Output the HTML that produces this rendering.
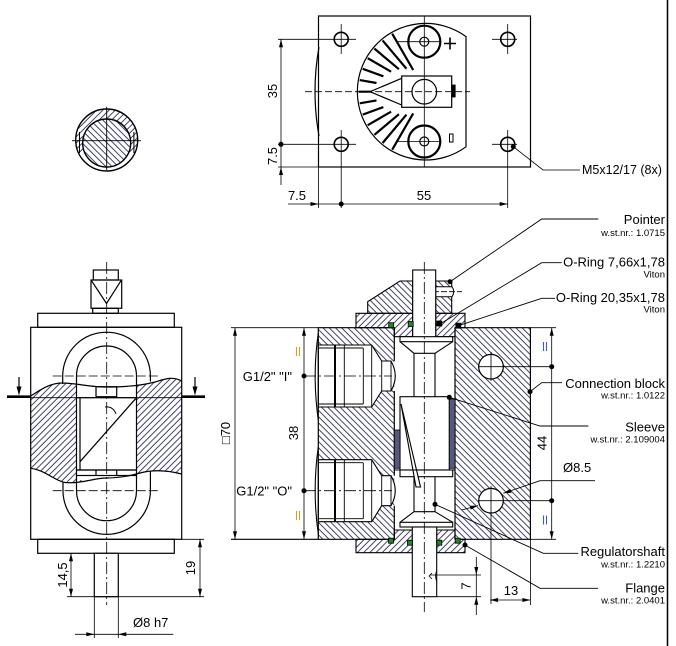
<!DOCTYPE html>
<html><head><meta charset="utf-8"><style>
html,body{margin:0;padding:0;background:#fff;}
svg{display:block;}
text{font-family:"Liberation Sans",Arial,"DejaVu Sans",sans-serif;fill:#000;}
</style></head><body>
<svg width="676" height="646" viewBox="0 0 676 646" xmlns="http://www.w3.org/2000/svg">
<defs>
<pattern id="hf" patternUnits="userSpaceOnUse" width="4.4" height="10" patternTransform="rotate(45)"><line x1="1" y1="-1" x2="1" y2="11" stroke="#2e2e5c" stroke-width="0.9"/></pattern>
<pattern id="hb" patternUnits="userSpaceOnUse" width="4.4" height="10" patternTransform="rotate(-45)"><line x1="1" y1="-1" x2="1" y2="11" stroke="#2e2e5c" stroke-width="0.9"/></pattern>
<clipPath id="rc"><rect x="70" y="100" width="80" height="53"/></clipPath>
</defs>
<rect width="676" height="646" fill="#fff"/>

<!-- right border -->
<line x1="667.5" y1="0" x2="667.5" y2="646" stroke="#000" stroke-width="1.5"/>

<!-- ================= TOP VIEW ================= -->
<g fill="none" stroke="#000" stroke-width="1.2">
<rect x="318.5" y="16" width="212" height="151"/>
<path d="M319,47 Q311,91.7 319,136"/>
<path d="M466,36.6 A68.3,68.3 0 1 0 466,146.8 Z"/>
<circle cx="341.2" cy="39.3" r="7" stroke-width="1.6"/>
<circle cx="507.7" cy="39.3" r="7" stroke-width="1.6"/>
<circle cx="341.2" cy="144.3" r="7" stroke-width="1.6"/>
<circle cx="507.7" cy="144.3" r="7" stroke-width="1.6"/>
<path stroke-width="0.8" d="M278,39.3H356 M341.2,24V54 M492,39.3H517 M507.7,24V54 M278,144.3H356 M341.2,130V208 M492,144.3H517 M507.7,130V208 M278,167H318.5 M318.5,167V208"/>
<circle cx="424.3" cy="41.7" r="16" stroke-width="2.2"/>
<circle cx="424.3" cy="41.7" r="4.5"/>
<circle cx="424.3" cy="141.5" r="16" stroke-width="2.2"/>
<circle cx="424.3" cy="141.5" r="4.5"/>
<rect x="401.7" y="76" width="50" height="31.3" fill="#fff"/>
<rect x="451.7" y="85" width="3.5" height="12" fill="#000" stroke-width="0.8"/>
<circle cx="424.3" cy="91.7" r="12.3"/>
<path d="M370,91.7 L401.7,78.3 M370,91.7 L401.7,105"/>
<path stroke-width="2.2" d="M358.7,91.7L370.7,91.7 M359.7,80.1L376.5,83 M362.7,68.8L383.4,76.3 M367.7,58.2L391.1,71.7 M374.4,48.6L398.9,69.2 M382.6,40.4L406.4,68.7 M392.2,33.7L413.2,70 M359.7,103.3L376.5,100.4 M362.7,114.6L383.4,107.1 M367.7,125.2L391.1,111.7 M374.4,134.8L398.9,114.2 M382.6,143L406.4,114.7 M392.2,149.7L413.2,113.4"/>
<path stroke-width="0.8" d="M424.3,16V167"/>
<path stroke-width="0.8" stroke-dasharray="7,3" d="M305,91.7H470"/>
<path stroke-width="0.8" d="M398,41.7H440 M398,141.5H440"/>
<path stroke-width="1.6" d="M444,43.5H456 M450,37.5V49.5"/>
<rect x="449.5" y="134" width="3.5" height="8" stroke-width="1"/>
</g>
<!-- top view dims -->
<g stroke="#000" stroke-width="0.8" fill="none">
<path d="M281,39.3V185 M288,204H507.7"/>
<path d="M513.3,146.7 L543,170 H580"/>
</g>
<g fill="#000">
<polygon points="281,39.3 279,47.3 283,47.3"/>
<polygon points="281,167 279,175 283,175"/>
<polygon points="318.5,204 310.5,202 310.5,206"/>
<polygon points="507.7,204 499.7,202 499.7,206"/>
<circle cx="281" cy="144.3" r="2.5"/>
<circle cx="341.2" cy="204" r="2.5"/>
<circle cx="513.3" cy="146.7" r="2.5"/>
</g>
<text font-size="13" text-anchor="middle" transform="translate(277,91) rotate(-90)">35</text>
<text font-size="13" text-anchor="middle" transform="translate(277,156) rotate(-90)">7.5</text>
<text font-size="13" text-anchor="middle" x="297" y="200">7.5</text>
<text font-size="13" text-anchor="middle" x="424" y="200">55</text>
<text font-size="12.5" x="582" y="174">M5x12/17 (8x)</text>

<!-- ================= SMALL ROUND SECTION ================= -->
<path d="M75.7,140 a31,31 0 1,0 62,0 a31,31 0 1,0 -62,0 Z M82.7,143 a24,24 0 1,0 48,0 a24,24 0 1,0 -48,0 Z" fill-rule="evenodd" fill="url(#hf)" clip-path="url(#rc)"/>
<circle cx="106.7" cy="143" r="24" fill="url(#hb)"/>
<g fill="none" stroke="#000" stroke-width="1.4">
<circle cx="106.7" cy="140" r="31"/>
<circle cx="106.7" cy="143" r="24"/>
<path stroke-width="1" d="M79.5,132 V153 M133.9,132 V153"/>
<path stroke-width="0.9" d="M72,140.7 H141 M106.7,106.7 V170"/>
</g>

<!-- ================= LEFT (SIDE) VIEW ================= -->
<rect x="30.7" y="376" width="151" height="110" fill="url(#hf)"/>
<path fill="#fff" d="M29,370 L29,396 C40,390 50,383 62,383 C75,383 90,387 106,387 C122,387 140,386 155,382 C165,379 172,376 183,381 L183,370 Z"/>
<path fill="#fff" d="M29,468.3 C45,470 55,481 65,482.5 C80,484 95,478 106,478 C120,478 130,476 140,473 C155,469 170,471 183,474 L183,492 L29,492 Z"/>
<rect x="76.5" y="380" width="60" height="100" fill="#fff"/>
<g fill="none" stroke="#000" stroke-width="1.2">
<rect x="93.3" y="270" width="25" height="10"/>
<rect x="91" y="280" width="30.7" height="28.3"/>
<rect x="92.7" y="308.3" width="25.6" height="5"/>
<path d="M91.5,280.7 L106.5,303.5 L121,280.7"/>
<rect x="37.7" y="313.3" width="136.6" height="14"/>
<rect x="30.7" y="327.3" width="151" height="212"/>
<path d="M62.7,384 V376 A43.7,43.7 0 0 1 150.4,376 V381.5"/>
<path d="M76.5,397.7 V376 A30,30 0 0 1 136.5,376 V397.7"/>
<path d="M30.7,396 C40,390 50,383 62,383 C75,383 90,387 106,387 C122,387 140,386 155,382 C165,379 172,376 181.7,381"/>
<path d="M30.7,468.3 C45,470 55,481 65,482.5 C80,484 95,478 106,478 C120,478 130,476 140,473 C155,469 170,471 181.7,474"/>
<rect x="76.5" y="397.7" width="60" height="72.3" fill="#fff"/>
<path d="M80,397.7 V470 M80,461.7 L136.5,397.7"/>
<path d="M105,407 Q113,406 116,414" stroke-width="0.9"/>
<rect x="96" y="386.7" width="20.7" height="10"/>
<rect x="76.5" y="470" width="60" height="5.5"/>
<path d="M96,470 V475.5 M116.7,470 V475.5"/>
<path d="M63,482.5 V490.7 A43.7,43.7 0 0 0 150.4,490.7 V471"/>
<path d="M76.5,475.5 V490.7 A30,30 0 0 0 136.5,490.7 V475.5"/>
<rect x="37.7" y="539.3" width="136.6" height="14"/>
<rect x="94.3" y="553.3" width="24" height="43.4" fill="#fff"/>
<path stroke-width="0.8" stroke-dasharray="9,3" d="M52.7,376 H159.3 M52.7,490.7 H159.3"/>
<path stroke-width="0.8" stroke-dasharray="12,3,2,3" d="M106.7,262 V605"/>
<path stroke-width="0.9" d="M30.7,397.7 H181.7"/>
<path stroke-width="2.6" d="M7,396.7 H30.7 M182,396.7 H205"/>
<path stroke-width="1.2" d="M19,377 V388 M195,377 V388"/>
</g>
<g fill="#000">
<polygon points="19,395.5 16.5,386.5 21.5,386.5"/>
<polygon points="195,395.5 192.5,386.5 197.5,386.5"/>
</g>
<!-- left view dims -->
<g stroke="#000" stroke-width="0.8" fill="none">
<path d="M71,553.3 V596.7 M200,539.3 V596.7 M181.7,539.3 H204 M67,596.7 H204 M75,634.3 H173.3 M94.3,596.7 V638 M118.3,596.7 V638"/>
</g>
<g fill="#000">
<polygon points="71,553.3 69,561.3 73,561.3"/>
<polygon points="71,596.7 69,588.7 73,588.7"/>
<polygon points="200,539.3 198,547.3 202,547.3"/>
<polygon points="200,596.7 198,588.7 202,588.7"/>
<polygon points="94.3,634.3 86.3,632.3 86.3,636.3"/>
<polygon points="118.3,634.3 126.3,632.3 126.3,636.3"/>
</g>
<text font-size="13" text-anchor="middle" transform="translate(67,575) rotate(-90)">14,5</text>
<text font-size="13" text-anchor="middle" transform="translate(195,568) rotate(-90)">19</text>
<text font-size="13" x="133" y="627">Ø8 h7</text>

<!-- ================= SECTION VIEW ================= -->
<rect x="318.3" y="327.7" width="76" height="211.6" fill="url(#hb)"/>
<rect x="455" y="327.7" width="75.4" height="211.6" fill="url(#hb)"/>
<circle cx="491" cy="366.7" r="12.3" fill="#fff" stroke="#000" stroke-width="1.2"/>
<circle cx="491" cy="500.7" r="12.3" fill="#fff" stroke="#000" stroke-width="1.2"/>

<!-- ports -->
<g stroke="#000" stroke-width="1.1" fill="#fff">
<path d="M318.3,345 L371.7,345 L381.7,361 L391,361 Q399.5,376 391,391 L381.7,391 L371.7,407 L318.3,407 Z"/>
<path d="M318.3,459.7 L371.7,459.7 L381.7,475.7 L391,475.7 Q399.5,490.7 391,505.7 L381.7,505.7 L371.7,521.7 L318.3,521.7 Z"/>
</g>
<g stroke="#000" stroke-width="0.9" fill="none">
<path d="M371.7,345 V407 M381.7,361 V391 M391,361 V391 M344.3,345 V407 M363.3,348 V404 M318.3,348 H363.3 M318.3,404 H363.3"/>
<path d="M371.7,459.7 V521.7 M381.7,475.7 V505.7 M391,475.7 V505.7 M344.3,459.7 V521.7 M363.3,462.7 V518.7 M318.3,462.7 H363.3 M318.3,518.7 H363.3"/>
<path stroke-width="2" d="M335,345 V407 M335,459.7 V521.7"/>
<path stroke-width="1.1" d="M318.3,333 Q312,376 318.3,420 M318.3,447 Q312,490.7 318.3,534"/>
</g>

<!-- flanges & pointer -->
<g fill="url(#hf)" stroke="#000" stroke-width="1.1">
<path d="M356,313.3 H412.7 V336.7 H394.3 V327.7 H356 Z"/>
<path d="M435.7,313.3 H465 V327.7 H455 V336.7 H435.7 Z"/>
<path d="M356,552.7 H412.3 V530 H394.3 V539.3 H356 Z"/>
<path d="M436.7,552.7 H465 V539.3 H455 V530 H436.7 Z"/>
</g>
<path fill="url(#hb)" stroke="#000" stroke-width="1.1" d="M367.7,313.3 V301.7 L400,281 H412.7 V313.3 Z M435.7,281 H451.7 V313.3 H435.7 Z"/>
<path fill="#fff" stroke="#000" stroke-width="1" d="M435.7,286.7 H452 Q455.5,291.7 452,296.7 H435.7 Z"/>
<path stroke="#000" stroke-width="0.8" stroke-dasharray="6,2" fill="none" d="M425,291.7 H462"/>
<path stroke="#000" stroke-width="0.8" fill="none" d="M433,288.7 L430,291.7 L433,294.7"/>

<!-- block outline & bore walls -->
<g stroke="#000" stroke-width="1.2" fill="none">
<path d="M394.3,327.7 H318.3 V539.3 H394.3 M455,327.7 H530.4 V539.3 H455"/>
<path d="M394.3,327.7 V361 M394.3,391 V475.7 M394.3,505.7 V539.3 M455,327.7 V539.3"/>
</g>

<!-- shaft & valve -->
<g stroke="#000" stroke-width="1.1" fill="#fff">
<rect x="412.7" y="270" width="23" height="67"/>
<rect x="400" y="336.7" width="52.7" height="5"/>
<rect x="400" y="396.7" width="49.3" height="73.3"/>
<rect x="400" y="470" width="52.7" height="6.7"/>
<rect x="400" y="522.3" width="52.7" height="4.7"/>
<rect x="412.3" y="527" width="24.4" height="69.7"/>
<polygon points="401,404 420.5,487 416,487"/>
</g>
<g stroke="#000" stroke-width="1.1" fill="none">
<path d="M400,341.7 L414,353.3 H435 L452.7,341.7 M414,353.3 V396.7 M435,353.3 V396.7"/>
<path d="M414,476.7 V511.7 M435,476.7 V511.7 M414,511.7 H435 M414,511.7 L400,522.3 M435,511.7 L452.7,522.3 M394.3,470 H455"/>
</g>
<g fill="#56597c" stroke="#000" stroke-width="0.8">
<rect x="449.3" y="399" width="5.7" height="69.3"/>
<rect x="394.3" y="430" width="5.7" height="38.3"/>
</g>
<!-- O-rings -->
<g stroke="#000" stroke-width="0.8">
<rect x="388.7" y="322.7" width="5" height="5" fill="#1e8a1e"/>
<rect x="408.2" y="321.5" width="5" height="5" fill="#1e8a1e"/>
<rect x="436.8" y="321" width="5" height="5" fill="#000"/>
<rect x="455.8" y="323.2" width="5" height="5" fill="#000"/>
<rect x="388.5" y="538.2" width="5" height="5" fill="#1e8a1e"/>
<rect x="407.5" y="540.2" width="5" height="5" fill="#1e8a1e"/>
<rect x="436.8" y="540.2" width="5" height="5" fill="#1e8a1e"/>
<rect x="455.2" y="538.2" width="5" height="5" fill="#1e8a1e"/>
</g>

<!-- centerlines -->
<g stroke="#000" stroke-width="0.8" fill="none">
<path stroke-dasharray="12,3,2,3" d="M424.3,262 V612"/>
<path stroke-dasharray="12,3,2,3" d="M304,376 H392 M304,490.7 H392"/>
<path d="M478,366.7 H551.7 M491,352 V381 M478,500.7 H551.7 M491,486 V604"/>
<path d="M432,573 L429,576 L432,579 M437,570 Q434,576 437,582"/>
</g>

<!-- section dims -->
<g stroke="#000" stroke-width="0.8" fill="none">
<path d="M235,327.7 V539.3 M304,327.7 V539.3 M231,327.7 H318.3 M551.7,327.7 V539.3 M530.4,327.7 H556 M530.4,539.3 H556"/>
<path stroke-width="1.2" d="M231,539.3 H318.3"/>
<path d="M476.3,556.7 V615 M430,575 H481 M436.7,596.7 H481 M490,600 H530.4 M530.4,539.3 V605"/>
<path d="M595,480.7 H540 L503.3,493.3 M461.7,510 L478,505.6"/>
</g>
<g fill="#000">
<polygon points="235,327.7 233,335.7 237,335.7"/>
<polygon points="235,539.3 233,531.3 237,531.3"/>
<polygon points="304,327.7 302,335.7 306,335.7"/>
<polygon points="304,539.3 302,531.3 306,531.3"/>
<polygon points="551.7,327.7 549.7,335.7 553.7,335.7"/>
<polygon points="551.7,539.3 549.7,531.3 553.7,531.3"/>
<polygon points="476.3,575 474.3,567 478.3,567"/>
<polygon points="476.3,596.7 474.3,604.7 478.3,604.7"/>
<polygon points="490,600 498,598 498,602"/>
<polygon points="530.4,600 522.4,598 522.4,602"/>
<polygon points="503.3,493.3 510.2,488.9 511.5,492.7"/>
<polygon points="478,505.6 470.8,509.6 469.8,505.7"/>
<circle cx="304" cy="376" r="2.5"/>
<circle cx="304" cy="490.7" r="2.5"/>
<circle cx="551.7" cy="366.7" r="2.5"/>
<circle cx="551.7" cy="500.7" r="2.5"/>
</g>
<g stroke-width="1.1">
<path stroke="#c9a227" d="M296.5,347 V356 M299.5,347 V356 M296.5,511 V520 M299.5,511 V520"/>
<path stroke="#3a5fcd" d="M543.5,342 V351 M546.5,342 V351 M543.5,515.5 V524.5 M546.5,515.5 V524.5"/>
</g>
<text font-size="13" text-anchor="middle" transform="translate(230,433) rotate(-90)">□70</text>
<text font-size="13" text-anchor="middle" transform="translate(298,433) rotate(-90)">38</text>
<text font-size="13" text-anchor="middle" transform="translate(546.5,443) rotate(-90)">44</text>
<text font-size="13" text-anchor="middle" transform="translate(470.5,586) rotate(-90)">7</text>
<text font-size="13" text-anchor="middle" x="511" y="595">13</text>
<text font-size="13" x="563" y="472">Ø8.5</text>
<text font-size="13" text-anchor="end" x="292" y="381">G1/2" "I"</text>
<text font-size="13" text-anchor="end" x="292" y="495.7">G1/2" "O"</text>

<!-- leaders -->
<g stroke="#000" stroke-width="0.9" fill="none">
<path d="M450,281.7 L541.7,219 H598.3"/>
<path d="M440,324 L541.7,262.7 H561.7"/>
<path d="M458.3,325.7 L541.7,298.3 H555"/>
<path d="M530,391.7 L541.7,382.7 H562"/>
<path d="M449.3,397.3 L540,426 H588.3"/>
<path d="M435,504.3 L543.3,553.3 H578.3"/>
<path d="M465,545 L540,588.3 H598"/>
</g>
<g fill="#000">
<circle cx="450" cy="281.7" r="2.5"/>
<circle cx="530" cy="391.7" r="2.5"/>
<circle cx="449.3" cy="397.3" r="2.5"/>
<circle cx="435" cy="504.3" r="2.5"/>
<circle cx="465" cy="545" r="2.5"/>
</g>
<g text-anchor="end">
<text font-size="13" x="665" y="224">Pointer</text>
<text font-size="9.5" x="665" y="236">w.st.nr.: 1.0715</text>
<text font-size="13" x="665" y="266.5">O-Ring 7,66x1,78</text>
<text font-size="9.5" x="665" y="277.5">Viton</text>
<text font-size="13" x="665" y="302">O-Ring 20,35x1,78</text>
<text font-size="9.5" x="665" y="312.5">Viton</text>
<text font-size="13" x="665" y="388">Connection block</text>
<text font-size="9.5" x="665" y="398.5">w.st.nr.: 1.0122</text>
<text font-size="13" x="665" y="431.5">Sleeve</text>
<text font-size="9.5" x="665" y="442.5">w.st.nr.: 2.109004</text>
<text font-size="13" x="665" y="556">Regulatorshaft</text>
<text font-size="9.5" x="665" y="567.5">w.st.nr.: 1.2210</text>
<text font-size="13" x="665" y="592.5">Flange</text>
<text font-size="9.5" x="665" y="603.5">w.st.nr.: 2.0401</text>
</g>
</svg>
</body></html>
